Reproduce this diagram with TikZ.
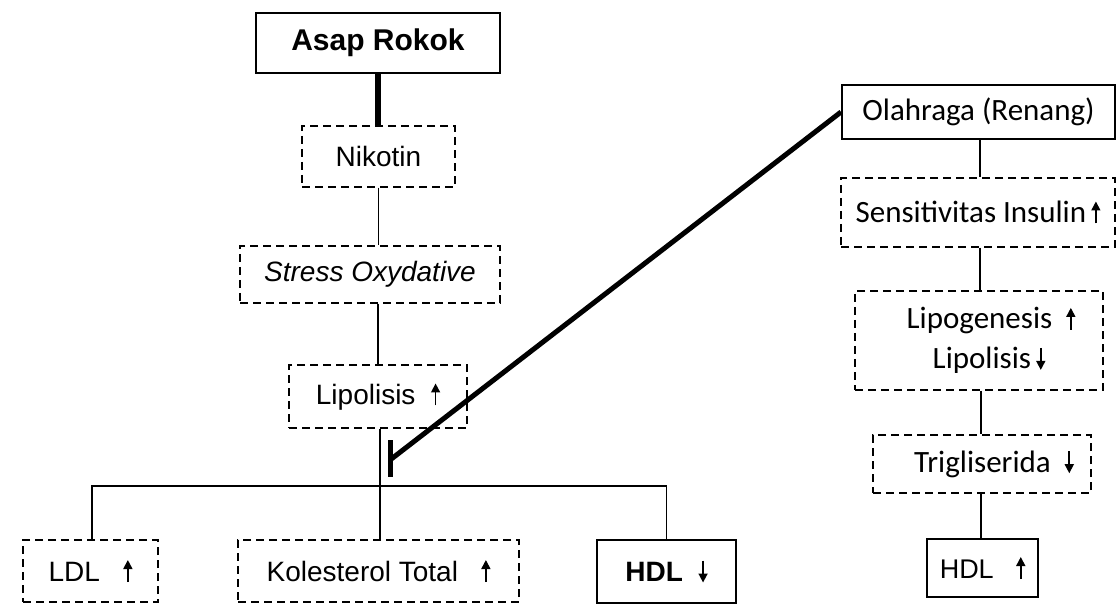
\documentclass[tikz,border=0pt]{standalone}
\usepackage{fontspec}
\usetikzlibrary{arrows.meta}
\setmainfont{Liberation Sans}
\newfontfamily\calfont{Carlito}
\newcommand{\naik}{\tikz[baseline=0pt,x=1pt,y=1pt]\draw[solid,line width=0.8pt,-{Triangle[length=4.5pt,width=4.5pt]}] (0,-0.5) -- (0,10.5);}
\newcommand{\turun}{\tikz[baseline=0pt,x=1pt,y=1pt]\draw[solid,line width=0.8pt,-{Triangle[length=4.5pt,width=4.5pt]}] (0,10.5) -- (0,-0.5);}

\begin{document}
\begin{tikzpicture}[x=0.5pt,y=-0.5pt,
  solidbox/.style={draw, line width=1pt, inner sep=0pt, align=center,
    font=\fontsize{14}{17}\selectfont},
  dashbox/.style={draw, line width=0.75pt, dash pattern=on 4pt off 2.5pt,
    inner sep=0pt, align=center, font=\fontsize{14}{17}\selectfont},
  rightfont/.style={font=\calfont\fontsize{15.5}{20}\selectfont},
  link/.style={line width=0.8pt},
  heavy/.style={line width=2.8pt}]
\useasboundingbox (0,0) rectangle (1117,614);

% left column
\node[solidbox, minimum width=122pt, minimum height=30pt,
  font=\bfseries\fontsize{15}{17}\selectfont] (asap) at (378,43) {Asap Rokok};
\node[dashbox, minimum width=76.5pt, minimum height=30.5pt] (nikotin) at (378.5,156.5) {Nikotin};
\node[dashbox, minimum width=130pt, minimum height=28.5pt] (stress) at (370,274.5) {\itshape Stress Oxydative};
\node[dashbox, minimum width=89pt, minimum height=31.5pt] (lipo) at (378,396.5) {Lipolisis \ \naik};

\node[dashbox, minimum width=67.5pt, minimum height=31pt] (ldl) at (90.5,571) {LDL \ \ \naik};
\node[dashbox, minimum width=140.5pt, minimum height=31pt] (koltot) at (378.5,571) {Kolesterol Total \ \ \naik};
\node[solidbox, minimum width=69.5pt, minimum height=31.5pt,
  font=\bfseries\fontsize{14}{17}\selectfont] (hdlturun) at (666.5,571.5) {HDL \ \turun};

\coordinate (bus) at (380,486);

% right column
\node[solidbox, rightfont, minimum width=136.5pt, minimum height=27pt] (olah) at (978.5,112) {Olahraga (Renang)};
\node[dashbox, rightfont, minimum width=137pt, minimum height=34.5pt] (sensi) at (978,212.5) {Sensitivitas Insulin\,\naik};
\node[dashbox, rightfont, minimum width=124pt, minimum height=49.5pt] (lipogen) at (979,340.5)
  {\hspace*{12pt}Lipogenesis \ \naik\\ \hspace*{10pt}Lipolisis\,\turun};
\node[dashbox, rightfont, minimum width=109pt, minimum height=29pt] (trig) at (982,464) {\hspace*{12pt}Trigliserida \ \turun};
\node[solidbox, minimum width=55.5pt, minimum height=29pt,
  font=\fontsize{13.5}{16}\selectfont] (hdlnaik) at (982.5,568) {HDL \ \ \naik};

% connectors left
\draw[heavy] (asap.south) -- (asap.south |- nikotin.north);
\draw[link] (nikotin.south) -- (nikotin.south |- stress.north);
\draw[link] (stress.south -| lipo.north) -- (lipo.north);
\draw[link] (lipo.south -| bus) -- (koltot.north -| bus);
\draw[link] (ldl.north -| 92,0) |- (bus) -| (hdlturun.north);

% connectors right
\draw[link] (olah.south -| 980,0) -- (sensi.north -| 980,0);
\draw[link] (sensi.south -| 980,0) -- (lipogen.north -| 980,0);
\draw[link] (lipogen.south -| 981,0) -- (trig.north -| 981,0);
\draw[link] (trig.south -| 981,0) -- (hdlnaik.north -| 981,0);

% inhibition
\coordinate (stop) at (390,460);
\draw[heavy, line width=2.5pt] (olah.west) -- (stop);
\draw[heavy, line width=2.5pt] (stop) ++(0,-20) -- ++(0,37);
\end{tikzpicture}
\end{document}
